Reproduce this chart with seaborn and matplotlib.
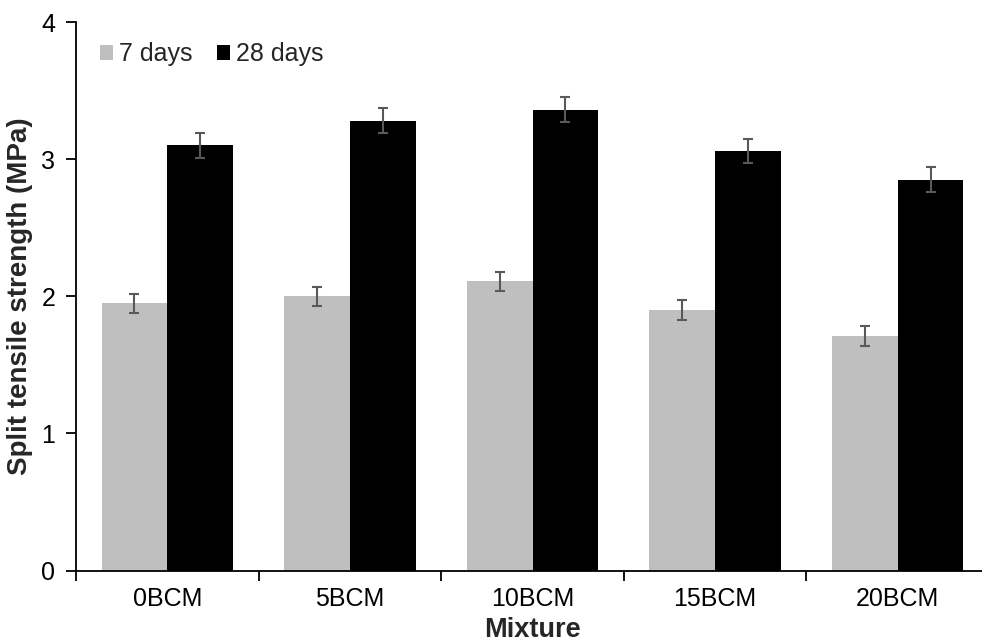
import matplotlib
matplotlib.use("Agg")
import matplotlib.pyplot as plt
import seaborn as sns
import pandas as pd
import numpy as np

mixtures = ["0BCM", "5BCM", "10BCM", "15BCM", "20BCM"]
ages = ["7 days", "28 days"]
strength_7d = [1.95, 2.00, 2.11, 1.90, 1.71]
strength_28d = [3.10, 3.28, 3.36, 3.06, 2.85]
err_7d = [0.07, 0.07, 0.07, 0.07, 0.07]
err_28d = [0.09, 0.09, 0.09, 0.09, 0.09]
yticks = [0, 1, 2, 3, 4]

df = pd.DataFrame({
    "Mixture": mixtures * 2,
    "Age": [ages[0]] * 5 + [ages[1]] * 5,
    "Strength": strength_7d + strength_28d,
    "Err": err_7d + err_28d,
})

sns.set_style("white")
plt.rcParams["font.family"] = ["Liberation Sans", "DejaVu Sans"]

fig = plt.figure(figsize=(9.82, 6.42), dpi=100)
ax = fig.add_axes([76 / 982, 1 - 570.5 / 642, (989 - 76) / 982, (570.5 - 22) / 642])

sns.barplot(data=df, x="Mixture", y="Strength", hue="Age", order=mixtures,
            hue_order=ages, palette={"7 days": "#BFBFBF", "28 days": "#000000"},
            width=0.72, errorbar=None, saturation=1, linewidth=0, ax=ax)

# error bars at bar centres
for container, age in zip(ax.containers, ages):
    sub = df[df["Age"] == age].set_index("Mixture").loc[mixtures]
    xs = [p.get_x() + p.get_width() / 2 for p in container.patches]
    ax.errorbar(xs, sub["Strength"].values, yerr=sub["Err"].values, fmt="none",
                ecolor="#595959", elinewidth=1.5, capsize=3.5, capthick=1.5, zorder=5)

ax.set_xlim(-0.5, 4.5)
ax.set_ylim(0, 4)
ax.set_yticks(yticks)
ax.set_yticklabels([str(t) for t in yticks])

for side in ["top", "right"]:
    ax.spines[side].set_visible(False)
for side in ["left", "bottom"]:
    ax.spines[side].set_color("#000000")
    ax.spines[side].set_linewidth(1.3)

ax.set_xticks(np.arange(-0.5, 5, 1.0), minor=True)
ax.tick_params(axis="x", which="major", length=0, pad=12, labelsize=18, colors="#000000")
ax.tick_params(axis="x", which="minor", length=7, width=1.3, direction="out", color="#000000", bottom=True)
ax.tick_params(axis="y", which="major", length=7, width=1.3, direction="out", left=True,
               labelsize=18, pad=8, colors="#000000")

ax.set_xlabel("Mixture", fontsize=19.5, fontweight="bold", labelpad=4)
ax.set_ylabel("Split tensile strength (MPa)", fontsize=20, fontweight="bold", labelpad=6)

leg = ax.legend(loc="upper left", bbox_to_anchor=(0.01, 0.99), ncol=2, frameon=False,
                fontsize=18, handlelength=0.5, handleheight=0.5, handletextpad=0.25,
                columnspacing=1.0, borderaxespad=0.2)

fig.savefig("out.png", dpi=100)
